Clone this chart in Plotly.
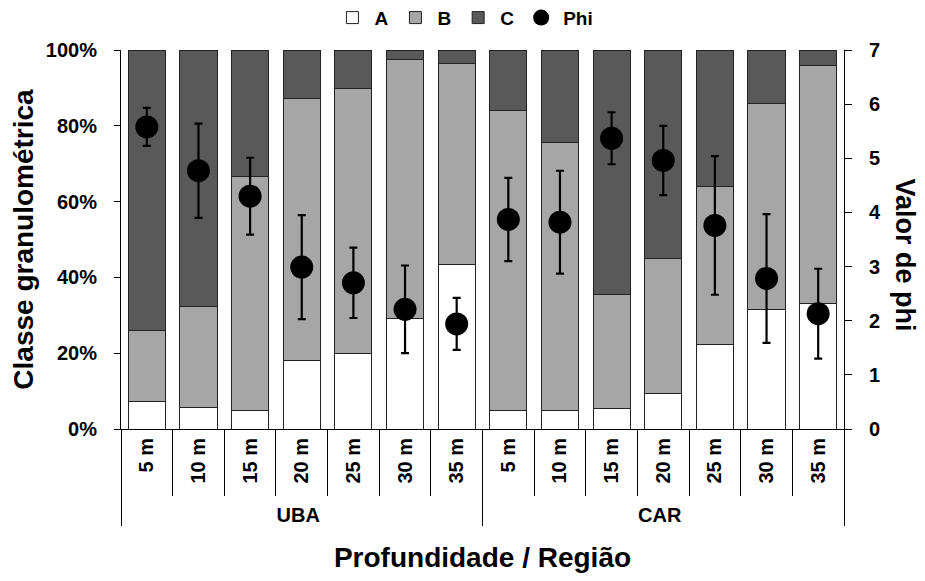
import plotly.graph_objects as go

regions = ["UBA"] * 7 + ["CAR"] * 7
depths = ["5 m", "10 m", "15 m", "20 m", "25 m", "30 m", "35 m"] * 2

# cumulative tops (fractions)
a_vals = [0.073, 0.058, 0.050, 0.182, 0.198, 0.291, 0.433,
          0.049, 0.049, 0.055, 0.094, 0.222, 0.316, 0.331]
b_top = [0.260, 0.322, 0.667, 0.871, 0.899, 0.975, 0.964,
         0.841, 0.756, 0.354, 0.449, 0.640, 0.860, 0.958]
b_vals = [bt - a for bt, a in zip(b_top, a_vals)]
c_vals = [1 - bt for bt in b_top]

phi = [5.58, 4.77, 4.30, 2.99, 2.70, 2.21, 1.94,
       3.87, 3.82, 5.37, 4.96, 3.76, 2.78, 2.13]
phi_err = [0.35, 0.87, 0.71, 0.96, 0.65, 0.81, 0.48,
           0.77, 0.95, 0.48, 0.64, 1.28, 1.19, 0.83]

FONT = "Arial, Liberation Sans, sans-serif"
TICKF = dict(family=FONT, size=20, color="black", weight="bold")
x = [regions, depths]

fig = go.Figure()
for name, vals, col in [("A", a_vals, "#ffffff"), ("B", b_vals, "#a6a6a6"), ("C", c_vals, "#595959")]:
    fig.add_trace(go.Bar(x=x, y=vals, name=name, width=0.72,
                         marker=dict(color=col, line=dict(color="#222222", width=1))))

fig.add_trace(go.Scatter(x=x, y=phi, name="Phi", yaxis="y2", mode="markers",
                         marker=dict(color="black", size=23),
                         error_y=dict(type="data", array=phi_err, color="black",
                                      thickness=2.2, width=4)))

fig.update_layout(
    barmode="stack",
    width=925, height=581,
    margin=dict(l=121, r=81, t=50, b=152, autoexpand=False),
    paper_bgcolor="white", plot_bgcolor="white",
    font=dict(family=FONT, size=16, color="black"),
    legend=dict(orientation="h", x=0.475, xanchor="center", y=1.035, yanchor="bottom",
                font=dict(family=FONT, size=19, color="black", weight="bold"),
                itemwidth=34, traceorder="normal"),
    xaxis=dict(type="multicategory", range=[-0.5, 13.5], tickangle=-90, showline=True,
               linecolor="black", linewidth=1, ticks="outside", tickson="boundaries",
               ticklen=66, tickcolor="black", showdividers=True, dividercolor="black",
               dividerwidth=1, tickfont=TICKF, showgrid=False, automargin=False,
               title=dict(text="<b>Profundidade / Região</b>", font=dict(size=28), standoff=22)),
    yaxis=dict(range=[0, 1], dtick=0.2, tickformat=".0%", showline=True, linecolor="black",
               linewidth=1, ticks="outside", ticklen=6, tickcolor="black", showgrid=False,
               zeroline=False, tickfont=TICKF, ticklabelstandoff=13, automargin=False,
               title=dict(text="<b>Classe granulométrica</b>", font=dict(size=28), standoff=4)),
    yaxis2=dict(range=[0, 7], dtick=1, overlaying="y", side="right", showline=True,
                linecolor="black", linewidth=1, ticks="outside", ticklen=7, tickcolor="black",
                showgrid=False, zeroline=False, tickfont=TICKF, ticklabelstandoff=13,
                automargin=False),
    annotations=[dict(text="<b>Valor de phi</b>", textangle=90, xref="paper", yref="paper",
                      x=1.0, y=0.5, xshift=78, yshift=-15, showarrow=False,
                      font=dict(family=FONT, size=27, color="black"))],
)

fig.write_html("out.html")
